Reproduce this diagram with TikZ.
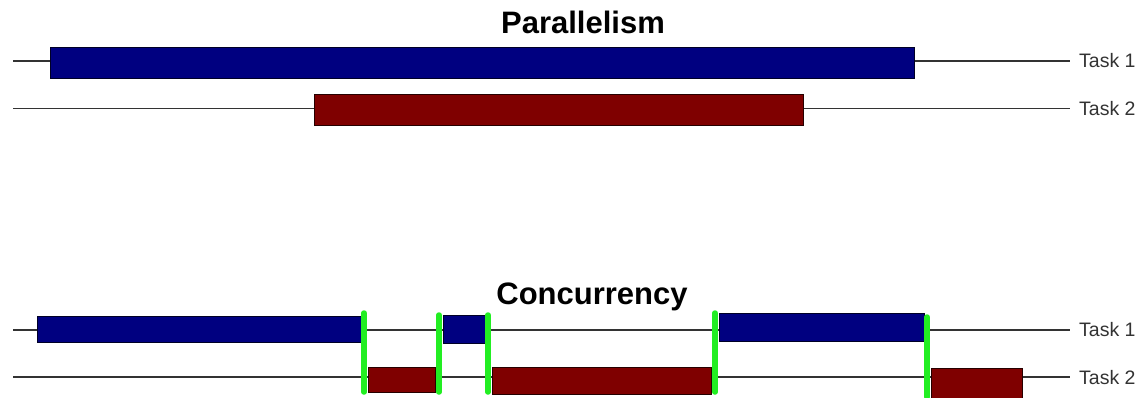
\documentclass[tikz,border=0pt]{standalone}
\usepackage{fontspec}
\setmainfont{Liberation Sans}
\definecolor{taskblue}{HTML}{000080}
\definecolor{taskred}{HTML}{7F0000}
\definecolor{switchgreen}{HTML}{22EE22}
\definecolor{linegrey}{HTML}{333333}
\begin{document}
\begin{tikzpicture}[x=1pt,y=-1pt,
  timeline/.style={draw=linegrey,line width=1.1pt},
  bluebar/.style={fill=taskblue,draw=black!70!taskblue,line width=0.5pt},
  redbar/.style={fill=taskred,draw=black!70!taskred,line width=0.5pt},
  switch/.style={draw=switchgreen,line width=5.5pt,line cap=round},
  tasklabel/.style={anchor=west,inner sep=0pt,font=\fontsize{19.5}{22}\selectfont,text=black!80},
  title/.style={inner sep=0pt,font=\fontsize{31}{34}\selectfont\bfseries}]
\useasboundingbox (0,0) rectangle (1143,397);
% Parallelism
\node[title] (ptitle) at (583,22) {Parallelism};
\node[tasklabel] (pl1) at (1079,61) {Task 1};
\node[tasklabel] (pl2) at (1079,109) {Task 2};
\coordinate (ps1) at (13,61);
\coordinate (pe1) at (1070,61);
\coordinate (ps2) at (13,108.5);
\coordinate (pe2) at (1070,108.5);
\draw[timeline] (ps1) -- (pe1);
\draw[timeline] (ps2) -- (pe2);
\path[bluebar] (50,47) rectangle (914,78);
\path[redbar] (314,94) rectangle (803,125);
% Concurrency
\node[title] (ctitle) at (592,297) {Concurrency};
\node[tasklabel] (cl1) at (1079,330) {Task 1};
\node[tasklabel] (cl2) at (1079,378) {Task 2};
\coordinate (cs1) at (13,330);
\coordinate (ce1) at (1070,330);
\coordinate (cs2) at (13,377);
\coordinate (ce2) at (1070,377);
\draw[timeline] (cs1) -- (ce1);
\draw[timeline] (cs2) -- (ce2);
\path[bluebar] (37,316) rectangle (361,342);
\path[redbar] (368,367) rectangle (435,392);
\path[bluebar] (443,315) rectangle (485,343);
\path[redbar] (492,367) rectangle (711,394);
\path[bluebar] (719,313) rectangle (924,341);
\path[redbar] (931,368) rectangle (1022,398);
\draw[switch] (364,313) -- (364,392);
\draw[switch] (439,315) -- (439,392);
\draw[switch] (488,315) -- (488,392);
\draw[switch] (715,313) -- (715,392);
\draw[switch] (927,317) -- (927,397);
\end{tikzpicture}
\end{document}
